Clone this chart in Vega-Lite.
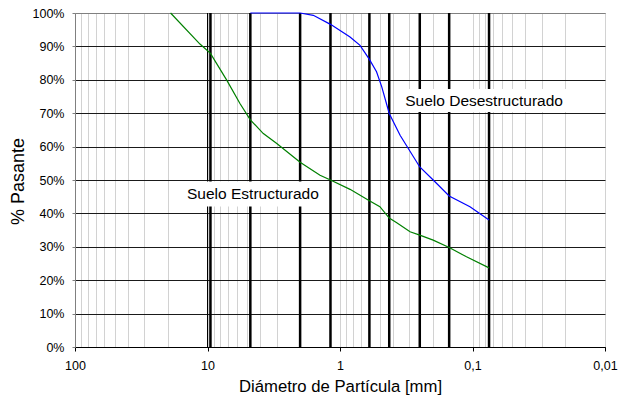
{
  "$schema": "https://vega.github.io/schema/vega-lite/v6.json",
  "width": 530,
  "height": 334,
  "autosize": "none",
  "padding": {"left": 75, "top": 13, "right": 13, "bottom": 50},
  "background": "white",
  "config": {
    "view": {"stroke": "#808080", "strokeWidth": 1},
    "font": "Liberation Sans",
    "axis": {"labelFont": "Liberation Sans", "titleFont": "Liberation Sans"}
  },
  "datasets": {
    "curves": [
      {"serie": "Estructurado", "d": 19, "p": 100},
      {"serie": "Estructurado", "d": 11.4, "p": 90.7},
      {"serie": "Estructurado", "d": 9.5, "p": 87.9},
      {"serie": "Estructurado", "d": 7.16, "p": 79.9},
      {"serie": "Estructurado", "d": 5.69, "p": 72.9},
      {"serie": "Estructurado", "d": 4.75, "p": 68},
      {"serie": "Estructurado", "d": 3.79, "p": 63.9},
      {"serie": "Estructurado", "d": 3.0, "p": 60.9},
      {"serie": "Estructurado", "d": 2.0, "p": 55.3},
      {"serie": "Estructurado", "d": 1.415, "p": 51.4},
      {"serie": "Estructurado", "d": 1.18, "p": 50},
      {"serie": "Estructurado", "d": 0.84, "p": 47.2},
      {"serie": "Estructurado", "d": 0.6, "p": 43.8},
      {"serie": "Estructurado", "d": 0.5, "p": 42},
      {"serie": "Estructurado", "d": 0.425, "p": 38.6},
      {"serie": "Estructurado", "d": 0.373, "p": 37.2},
      {"serie": "Estructurado", "d": 0.296, "p": 34.5},
      {"serie": "Estructurado", "d": 0.25, "p": 33.5},
      {"serie": "Estructurado", "d": 0.198, "p": 32},
      {"serie": "Estructurado", "d": 0.15, "p": 29.8},
      {"serie": "Estructurado", "d": 0.111, "p": 27},
      {"serie": "Estructurado", "d": 0.075, "p": 23.7},
      {"serie": "Desestructurado", "d": 4.75, "p": 100},
      {"serie": "Desestructurado", "d": 2.0, "p": 100},
      {"serie": "Desestructurado", "d": 1.59, "p": 99.3},
      {"serie": "Desestructurado", "d": 1.18, "p": 96.6},
      {"serie": "Desestructurado", "d": 0.84, "p": 92.8},
      {"serie": "Desestructurado", "d": 0.706, "p": 90.3},
      {"serie": "Desestructurado", "d": 0.6, "p": 86.1},
      {"serie": "Desestructurado", "d": 0.53, "p": 82.4},
      {"serie": "Desestructurado", "d": 0.484, "p": 77.9},
      {"serie": "Desestructurado", "d": 0.425, "p": 69.9},
      {"serie": "Desestructurado", "d": 0.352, "p": 63.4},
      {"serie": "Desestructurado", "d": 0.25, "p": 53.9},
      {"serie": "Desestructurado", "d": 0.198, "p": 50},
      {"serie": "Desestructurado", "d": 0.15, "p": 45.2},
      {"serie": "Desestructurado", "d": 0.1045, "p": 42},
      {"serie": "Desestructurado", "d": 0.075, "p": 38}
    ],
    "sieves": [
      {"d": 9.5}, {"d": 4.75}, {"d": 2.0}, {"d": 1.18}, {"d": 0.6},
      {"d": 0.425}, {"d": 0.25}, {"d": 0.15}, {"d": 0.075}
    ],
    "thin": [{"d": 10}],
    "labels": [
      {"label": "Suelo Estructurado", "d": 4.54, "p": 45.8},
      {"label": "Suelo Desestructurado", "d": 0.0818, "p": 73.8}
    ]
  },
  "layer": [
    {
      "data": {"name": "thin"},
      "mark": {"type": "rule", "color": "black", "strokeWidth": 1},
      "encoding": {"x": {"field": "d", "type": "quantitative"}}
    },
    {
      "data": {"name": "sieves"},
      "mark": {"type": "rule", "color": "black", "strokeWidth": 2.5},
      "encoding": {"x": {"field": "d", "type": "quantitative"}}
    },
    {
      "data": {"name": "labels"},
      "mark": {"type": "point", "filled": true, "color": "white", "opacity": 1, "size": 10000, "strokeWidth": 0},
      "encoding": {
        "x": {"field": "d", "type": "quantitative"},
        "y": {"field": "p", "type": "quantitative"},
        "shape": {
          "field": "label", "type": "nominal",
          "scale": {"domain": ["Suelo Estructurado", "Suelo Desestructurado"], "range": ["M-1.5,-0.25H1.5V0.25H-1.5Z", "M-1.72,-0.23H1.72V0.23H-1.72Z"]},
          "legend": null
        }
      }
    },
    {
      "data": {"name": "labels"},
      "mark": {"type": "text", "fontSize": 15.5, "font": "Liberation Sans", "align": "center", "baseline": "middle", "color": "black"},
      "encoding": {
        "x": {"field": "d", "type": "quantitative"},
        "y": {"field": "p", "type": "quantitative"},
        "text": {"field": "label"}
      }
    },
    {
      "data": {"name": "curves"},
      "mark": {"type": "line", "strokeWidth": 1.2},
      "encoding": {
        "x": {
          "field": "d", "type": "quantitative",
          "scale": {"type": "log", "domain": [0.01, 100], "reverse": true, "nice": false},
          "axis": {
            "values": [100, 90, 80, 70, 60, 50, 40, 30, 20, 10, 9, 8, 7, 6, 5, 4, 3, 2, 1, 0.9, 0.8, 0.7, 0.6, 0.5, 0.4, 0.3, 0.2, 0.1, 0.09, 0.08, 0.07, 0.06, 0.05, 0.04, 0.03, 0.02, 0.01],
            "tickCount": 100,
            "labelExpr": "indexof([100,10,1,0.1,0.01], datum.value) >= 0 ? replace(toString(datum.value), '.', ',') : ''",
            "labelOverlap": false,
            "labelFlush": false,
            "grid": true,
            "gridColor": "#d2d2d2",
            "gridWidth": 1,
            "tickOpacity": {"condition": {"test": "indexof([100,10,1,0.1,0.01], datum.value) >= 0", "value": 1}, "value": 0},
            "tickSize": 4,
            "tickColor": "black",
            "domainColor": "black",
            "labelPadding": 8,
            "labelFontSize": 12.5,
            "labelColor": "black",
            "title": "Diámetro de Partícula [mm]",
            "titleFontSize": 16.7,
            "titleFontWeight": "normal",
            "titleColor": "black",
            "titleY": 44,
            "titleBaseline": "alphabetic"
          }
        },
        "y": {
          "field": "p", "type": "quantitative",
          "scale": {"domain": [0, 100], "nice": false},
          "axis": {
            "values": [0, 10, 20, 30, 40, 50, 60, 70, 80, 90, 100],
            "tickCount": 20,
            "labelOverlap": false,
            "labelExpr": "datum.value + '%'",
            "grid": true,
            "gridColor": {"condition": {"test": "datum.value == 100", "value": "#808080"}, "value": "#1a1a1a"},
            "tickSize": 3,
            "tickColor": "#808080",
            "domainColor": "#808080",
            "labelPadding": 8,
            "labelFontSize": 12.5,
            "labelColor": "black",
            "title": "% Pasante",
            "titleFontSize": 18,
            "titleFontWeight": "normal",
            "titleColor": "black",
            "titleX": -56.5,
            "titleY": 168,
            "titleAlign": "center",
            "titleBaseline": "middle"
          }
        },
        "color": {
          "field": "serie", "type": "nominal",
          "scale": {"domain": ["Desestructurado", "Estructurado"], "range": ["#0000ff", "#008000"]},
          "legend": null
        }
      }
    }
  ]
}
